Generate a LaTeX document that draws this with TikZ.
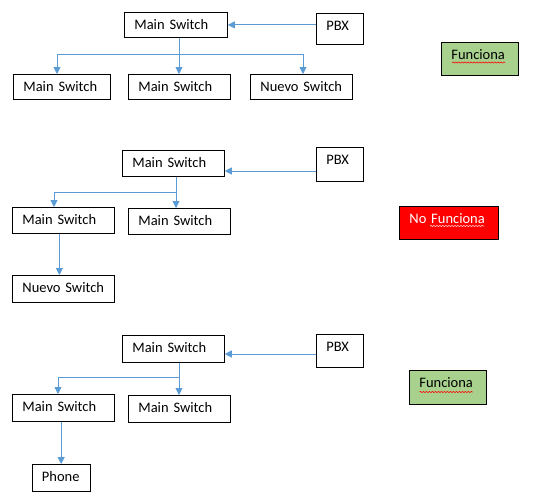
\documentclass[tikz,border=0pt]{standalone}
\usepackage{fontspec}
\setmainfont{Carlito}
\usetikzlibrary{arrows.meta,decorations.pathmorphing}
\definecolor{wireblue}{HTML}{5B9BD5}
\definecolor{okgreen}{HTML}{A9D18E}
\definecolor{nored}{HTML}{FF0000}
\definecolor{squigpink}{RGB}{255,205,205}
\begin{document}
\begin{tikzpicture}[x=1pt,y=-1pt,
  box/.style={draw=black, line width=0.8pt, rectangle, anchor=north west,
    inner xsep=10pt, inner ysep=0pt, align=left, text height=17.5pt,
    font=\fontsize{14.5}{17}\selectfont},
  wire/.style={draw=wireblue, line width=0.8pt},
  arr/.style={wire, -{Triangle[length=7pt,width=7pt]}},
  squig/.style={decorate, decoration={snake, segment length=3pt, amplitude=0.6pt}, line width=0.6pt}
]
\useasboundingbox (0,0) rectangle (537,495);

% ---------- Section 1 ----------
\node[box, text width=83pt, text depth=7.5pt] (m1) at (124,12) {Main~Switch};
\node[box, text width=27pt, text depth=13.5pt] (p1) at (316,13) {PBX};
\node[box, text width=77pt, text depth=7.5pt] (a1) at (13,74) {Main~Switch};
\node[box, text width=82pt, text depth=7.5pt] (b1) at (128,74) {Main~Switch};
\node[box, text width=82pt, text depth=7.5pt] (c1) at (250,74) {Nuevo~Switch};
\node[box, fill=okgreen, text width=57pt, text depth=15.5pt] (f1) at (441,42) {Funciona};
\draw[squig, red] ([xshift=11pt,yshift=-20.5pt]f1.north west) -- ++(53,0);

\coordinate (j1) at (179,54);
\coordinate (l1) at (57,54);
\coordinate (r1) at (303,54);
\draw[wire] (m1.south -| j1) -- (j1);
\draw[wire] (l1) -- (r1);
\draw[arr] (l1) -- (l1 |- a1.north);
\draw[arr] (j1) -- (j1 |- b1.north);
\draw[arr] (r1) -- (r1 |- c1.north);
\draw[arr] (p1.west |- m1.east) -- (m1.east);

% ---------- Section 2 ----------
\node[box, text width=82pt, text depth=8.5pt] (m2) at (122,150) {Main~Switch};
\node[box, text width=27pt, text depth=16.5pt] (p2) at (316,147) {PBX};
\node[box, text width=82pt, text depth=8.5pt] (a2) at (12,207) {Main~Switch};
\node[box, text width=82pt, text depth=8.5pt] (b2) at (128,208) {Main~Switch};
\node[box, text width=82pt, text depth=9.5pt] (n2) at (12,275) {Nuevo~Switch};
\node[box, fill=nored, text=white, text width=79pt, text depth=15.5pt] (f2) at (399,206) {No~Funciona};
\draw[squig, squigpink] ([xshift=31pt,yshift=-20pt]f2.north west) -- ++(54,0);

\coordinate (j2) at (176,192);
\coordinate (l2) at (54,192);
\coordinate (e2) at (0,171);
\draw[wire] (m2.south -| j2) -- (j2) -- (l2);
\draw[arr] (l2) -- (l2 |- a2.north);
\draw[arr] (j2) -- (j2 |- b2.north);
\draw[arr] ([xshift=-4pt]a2.south) -- ([xshift=-4pt]n2.north);
\draw[arr] (p2.west |- e2) -- (m2.east |- e2);

% ---------- Section 3 ----------
\node[box, text width=82pt, text depth=9.5pt] (m3) at (122,335) {Main~Switch};
\node[box, text width=27pt, text depth=15.5pt] (p3) at (316,334) {PBX};
\node[box, text width=82pt, text depth=9.5pt] (a3) at (12,394) {Main~Switch};
\node[box, text width=82pt, text depth=9.5pt] (b3) at (128,395) {Main~Switch};
\node[box, text width=38.5pt, text depth=9.5pt] (ph) at (31.5,464) {Phone};
\node[box, fill=okgreen, text width=57pt, text depth=16.5pt] (f3) at (409,370) {Funciona};
\draw[squig, red] ([xshift=10.5pt,yshift=-22pt]f3.north west) -- ++(53,0);

\coordinate (j3) at (179,377);
\coordinate (l3) at (58,377);
\coordinate (e3) at (0,354);
\draw[wire] (m3.south -| j3) -- (j3) -- (l3);
\draw[arr] (l3) -- (l3 |- a3.north);
\draw[arr] (j3) -- (j3 |- b3.north);
\draw[arr] (a3.south -| ph.north) -- (ph.north);
\draw[arr] (p3.west |- e3) -- (m3.east |- e3);
\end{tikzpicture}
\end{document}
